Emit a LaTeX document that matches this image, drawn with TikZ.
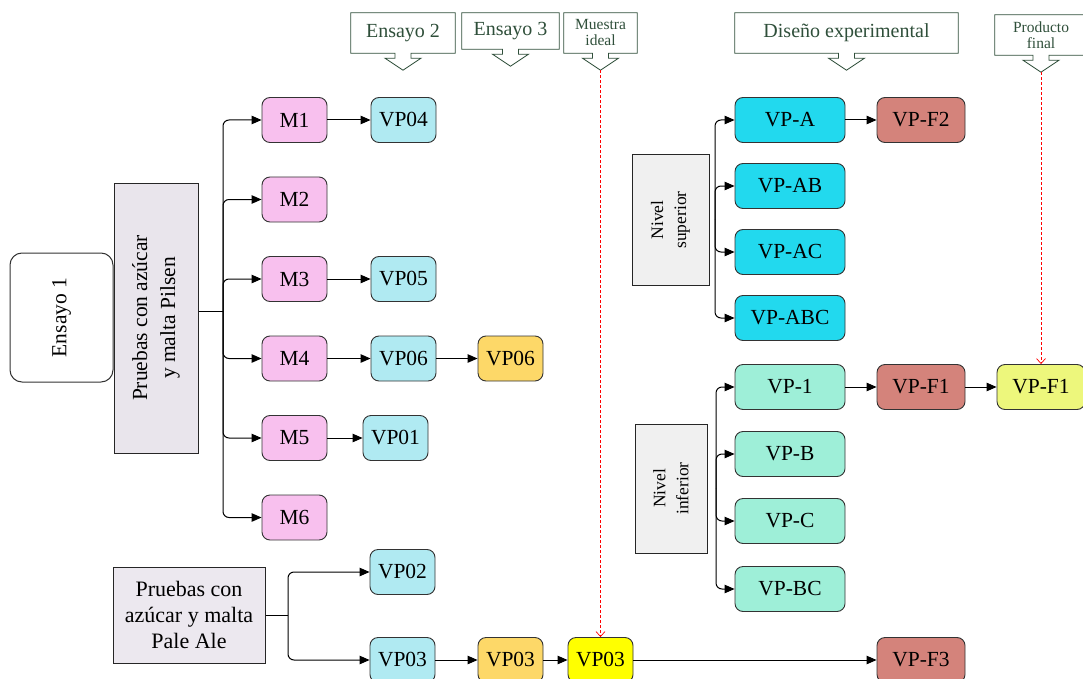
\documentclass[tikz,border=0pt]{standalone}
\usepackage{fontspec}
\setmainfont{Liberation Serif}
\usetikzlibrary{arrows.meta,calc}

\definecolor{mpink}{HTML}{F8C0EE}
\definecolor{vblue}{HTML}{B0EAF2}
\definecolor{vorange}{HTML}{FDD868}
\definecolor{vyellow}{HTML}{FFFF00}
\definecolor{vred}{HTML}{D4837B}
\definecolor{vcyan}{HTML}{22D9EE}
\definecolor{vmint}{HTML}{9EEFD8}
\definecolor{vlime}{HTML}{EDF77C}
\definecolor{pilsen}{HTML}{E9E5EC}
\definecolor{paleale}{HTML}{ECE8EF}
\definecolor{nivel}{HTML}{F0F0F0}
\definecolor{cgreen}{HTML}{2F4F3A}

% outline of a label box with a down-pointing arrow under it
\newcommand\callshape[1]{%
  \draw[callout] ([xshift=8pt]#1.south) -- (#1.south east) -- (#1.north east)
    -- (#1.north west) -- (#1.south west) -- ([xshift=-8pt]#1.south)
    -- ([xshift=-8pt,yshift=-5pt]#1.south) -- ([xshift=-18pt,yshift=-5pt]#1.south)
    -- ([yshift=-17pt]#1.south) coordinate (#1-tip)
    -- ([xshift=18pt,yshift=-5pt]#1.south) -- ([xshift=8pt,yshift=-5pt]#1.south)
    -- cycle;}

\begin{document}
\begin{tikzpicture}[x=1pt,y=-1pt,
  box/.style={draw=black!80, line width=0.9pt, rounded corners=8pt,
    minimum height=45pt, inner sep=0pt, font=\fontsize{21.5}{24}\selectfont},
  mb/.style={box, fill=mpink, minimum width=65pt},
  vb/.style={box, fill=vblue, minimum width=65pt},
  ob/.style={box, fill=vorange, minimum width=65pt},
  yb/.style={box, fill=vyellow, minimum width=65pt},
  rb/.style={box, fill=vred, minimum width=88pt},
  cb/.style={box, fill=vcyan, minimum width=110pt},
  tb/.style={box, fill=vmint, minimum width=110pt},
  lb/.style={box, fill=vlime, minimum width=88pt},
  grbox/.style={draw=black!85, line width=1pt, inner sep=0pt},
  arr/.style={-{Triangle[length=10pt,width=8.5pt]}, line width=1pt},
  br/.style={arr, rounded corners=6pt},
  ln/.style={line width=1pt},
  ideal/.style={red, dash pattern=on 3pt off 2pt, line width=0.7pt,
    -{Straight Barb[length=5pt,width=9pt]}},
  callout/.style={draw=cgreen, line width=0.8pt},
  ctext/.style={text=cgreen, inner sep=0pt, align=center},
  big/.style={font=\fontsize{20}{23}\selectfont},
  small/.style={font=\fontsize{15.5}{16}\selectfont},
]
\useasboundingbox (0,0) rectangle (1083,679);

% ---- headings ----
\node[ctext, big, minimum width=104pt, minimum height=40pt] (e2) at (403,33) {Ensayo 2};
\node[ctext, big, minimum width=97pt, minimum height=36pt] (e3) at (510.5,31) {Ensayo 3};
\node[ctext, small, minimum width=73pt, minimum height=40pt] (mi) at (600.5,33) {Muestra\\ideal};
\node[ctext, big, minimum width=223pt, minimum height=40pt] (de) at (846.5,33) {Diseño experimental};
\node[ctext, small, minimum width=92pt, minimum height=40pt] (pf) at (1041,35) {Producto\\final};
\callshape{e2}
\callshape{e3}
\callshape{mi}
\callshape{de}
\callshape{pf}

% ---- first trial ----
\node[draw=black!80, line width=1pt, rounded corners=12pt, minimum width=103pt,
  minimum height=129pt] (e1) at (61.5,317.5) {};
\node[rotate=90, font=\fontsize{21.5}{26}\selectfont] (e1t) at (e1.center) {Ensayo 1};

\node[grbox, fill=pilsen, minimum width=84pt, minimum height=270pt] (pil) at (156,318) {};
\node[rotate=90, align=center, font=\fontsize{21.5}{28}\selectfont] (pilt) at (pil.center)
  {Pruebas con azúcar\\y malta Pilsen};

\node[mb] (m1) at (294.5,120) {M1};
\node[mb] (m2) at (294.5,199.5) {M2};
\node[mb] (m3) at (294.5,279) {M3};
\node[mb] (m4) at (294.5,358.5) {M4};
\node[mb] (m5) at (294.5,438) {M5};
\node[mb] (m6) at (294.5,517.5) {M6};

\node[vb] (vp04) at (403.5,120) {VP04};
\node[vb] (vp05) at (403.5,279) {VP05};
\node[vb] (vp06) at (403.5,358.5) {VP06};
\node[ob] (vp06o) at (510.5,358.5) {VP06};
\node[vb] (vp01) at (395.5,438) {VP01};

\coordinate (tp) at (223,311);
\draw[ln] (pil.east |- tp) -- (tp);
\foreach \m in {m1,m2,m3,m4,m5,m6} \draw[br] (tp) |- (\m.west);
\draw[arr] (m1) -- (vp04);
\draw[arr] (m3) -- (vp05);
\draw[arr] (m4) -- (vp06);
\draw[arr] (vp06) -- (vp06o);
\draw[arr] (m5) -- (vp01);

% ---- pale ale trials ----
\node[grbox, fill=paleale, minimum width=152pt, minimum height=96pt, align=center,
  font=\fontsize{22}{26}\selectfont] (pa) at (189,615) {Pruebas con\\azúcar y malta\\Pale Ale};
\node[vb] (vp02) at (402.5,572) {VP02};
\node[vb] (vp03b) at (402.5,660) {VP03};
\node[ob] (vp03o) at (510.5,660) {VP03};
\node[yb] (vp03y) at (600.5,660) {VP03};
\node[rb] (vpf3) at (921,660) {VP-F3};

\coordinate (tpa) at (288,615);
\draw[ln] (pa.east |- tpa) -- (tpa);
\draw[br] (tpa) |- (vp02.west);
\draw[br] (tpa) |- (vp03b.west);
\draw[arr] (vp03b) -- (vp03o);
\draw[arr] (vp03o) -- (vp03y);
\draw[arr] (vp03y) -- (vpf3);

% ---- experimental design: upper level ----
\node[grbox, fill=nivel, minimum width=77pt, minimum height=130pt] (nsup) at (670.5,220) {};
\node[rotate=90, align=center, font=\fontsize{17.5}{23}\selectfont] (nsupt) at (nsup.center)
  {Nivel\\superior};
\node[cb] (vpa) at (790,120) {VP-A};
\node[cb] (vpab) at (790,186) {VP-AB};
\node[cb] (vpac) at (790,252) {VP-AC};
\node[cb] (vpabc) at (790,318) {VP-ABC};
\node[rb] (vpf2) at (921,120) {VP-F2};

\coordinate (tsup) at (715,219);
\foreach \v in {vpa,vpab,vpac,vpabc} \draw[br] (tsup) |- (\v.west);
\draw[arr] (vpa) -- (vpf2);

% ---- experimental design: lower level ----
\node[grbox, fill=nivel, minimum width=72pt, minimum height=129pt] (ninf) at (671,488.5) {};
\node[rotate=90, align=center, font=\fontsize{17.5}{23}\selectfont] (ninft) at (ninf.center)
  {Nivel\\inferior};
\node[tb] (vp1) at (790,387) {VP-1};
\node[tb] (vpb) at (790,454) {VP-B};
\node[tb] (vpc) at (790,521) {VP-C};
\node[tb] (vpbc) at (790,589) {VP-BC};
\node[rb] (vpf1r) at (921,387) {VP-F1};
\node[lb] (vpf1y) at (1041,387) {VP-F1};

\coordinate (tinf) at (716,488);
\foreach \v in {vp1,vpb,vpc,vpbc} \draw[br] (tinf) |- (\v.west);
\draw[arr] (vp1) -- (vpf1r);
\draw[arr] (vpf1r) -- (vpf1y);

% ---- links from the headings ----
\draw[ideal] (mi-tip) -- (vp03y.north);
\draw[ideal] (pf-tip) -- (vpf1y.north);
\end{tikzpicture}
\end{document}
